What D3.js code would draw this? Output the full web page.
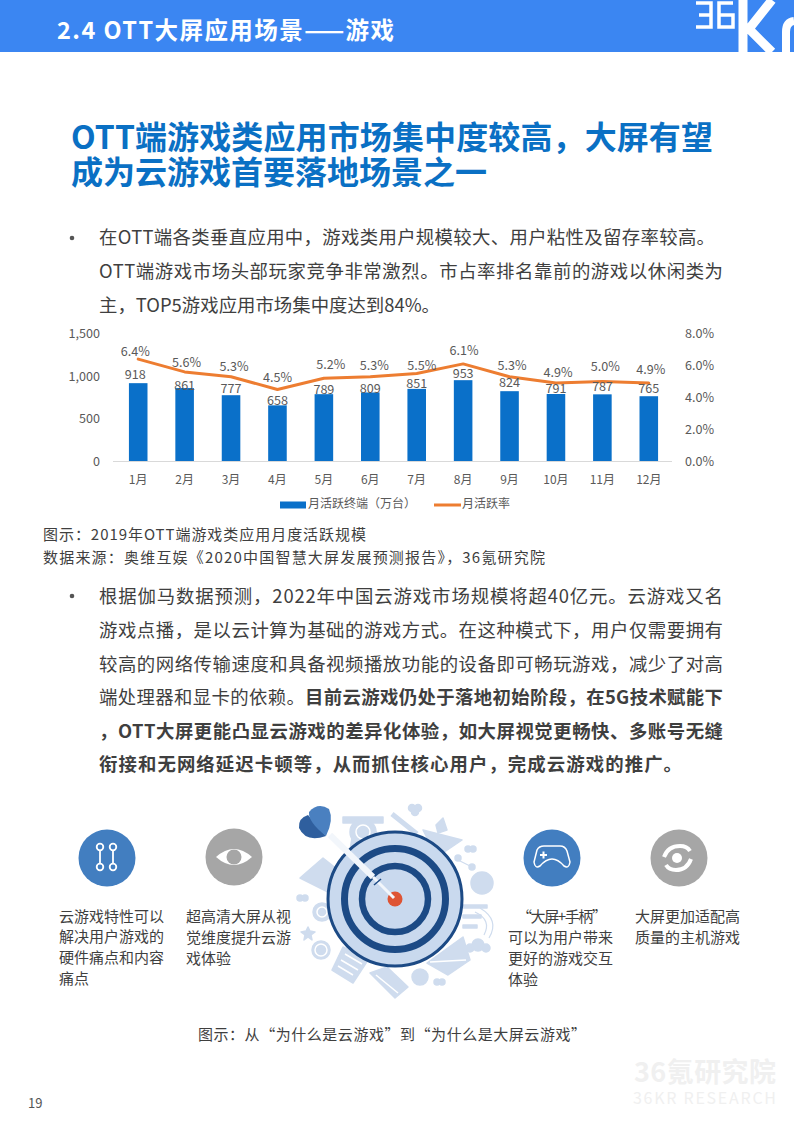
<!DOCTYPE html>
<html><head><meta charset="utf-8">
<script src="https://cdn.jsdelivr.net/npm/d3@7/dist/d3.min.js"></script>
<style>html,body{margin:0;padding:0;background:#fff}svg{display:block}text{font-family:"Noto Sans CJK SC","Noto Sans",sans-serif}</style>
</head><body><svg id="c" width="794" height="1123"></svg>
<script>
const months=["1月","2月","3月","4月","5月","6月","7月","8月","9月","10月","11月","12月"];
const terminals=[918,861,777,658,789,809,851,953,824,791,787,765];
const rates=[6.4,5.6,5.3,4.5,5.2,5.3,5.5,6.1,5.3,4.9,5.0,4.9];
const leftTicks=[0,500,1000,1500];
const rightTicks=[0,2,4,6,8];
const barName="月活跃终端（万台）", lineName="月活跃率";

const svg=d3.select("#c");
const BLUE="#3b86f2",TITLE="#0a70c4",INK="#3f3f3f",AX="#595959";

function T(x,cy,s,size,opt={}){
  return svg.append("text").attr("x",x).attr("y",cy+size*0.36).attr("font-size",size)
    .attr("fill",opt.fill||INK).attr("font-weight",opt.weight||400)
    .attr("text-anchor",opt.anchor||"start")
    .attr("textLength",opt.len||null).attr("lengthAdjust",opt.len?"spacing":null).text(s);
}
function bullet(cy){svg.append("circle").attr("cx",72).attr("cy",cy).attr("r",2.3).attr("fill","#555");}
// header
svg.append("rect").attr("width",794).attr("height",52).attr("fill",BLUE);
T(57,31,"2.4 OTT大屏应用场景——游戏",23.5,{fill:"#fff",weight:700,len:337});
const logo=svg.append("g").attr("fill","none").attr("stroke","#fff");
logo.append("path").attr("stroke-width",3.5).attr("d","M696 3H711V27H696M699 15H711M733 3H719V27H733V15H719");
logo.append("path").attr("stroke-width",9).attr("d","M743 0V52M772 0L749 29L772 52");
logo.append("path").attr("stroke-width",8).attr("d","M786 52V32Q786 22 794 21");

// headline
T(71,137,"OTT端游戏类应用市场集中度较高，大屏有望",32,{fill:TITLE,weight:700,len:642});
T(71,172,"成为云游戏首要落地场景之一",32,{fill:TITLE,weight:700,len:416});

// body 1
[["在OTT端各类垂直应用中，游戏类用户规模较大、用户粘性及留存率较高。",237,616],["OTT端游戏市场头部玩家竞争非常激烈。市占率排名靠前的游戏以休闲类为",271,624],["主，TOP5游戏应用市场集中度达到84%。",305,341]]
 .forEach(d=>T(99,d[1],d[0],18.4,{len:d[2]}));
bullet(238);

// chart
const x=d3.scaleBand().domain(months).range([115,672]).paddingInner(0.6).paddingOuter(0.3);
const y=d3.scaleLinear().domain([0,1500]).range([461.5,333.5]);
const yr=d3.scaleLinear().domain([0,8]).range([461.5,333.5]);
const cx=m=>x(m)+x.bandwidth()/2;
const chart=svg.append("g");
chart.selectAll("rect").data(terminals).join("rect")
 .attr("x",(d,i)=>x(months[i])).attr("width",x.bandwidth())
 .attr("y",d=>y(d)).attr("height",d=>y(0)-y(d)).attr("fill","#0a70c9");
chart.append("line").attr("x1",113).attr("x2",672).attr("y1",461.5).attr("y2",461.5).attr("stroke","#d9d9d9");
const line=d3.line().x((d,i)=>cx(months[i])).y(d=>yr(d));
chart.append("path").attr("d",line(rates)).attr("fill","none").attr("stroke","#ed7d31").attr("stroke-width",3).attr("stroke-linejoin","round").attr("stroke-linecap","round");
const s=12.6;
const dyB=[-9,-3,-7,-4.7,-4.7,-4.5,-5,-7,-8.5,-6,-8.3,-8];
const dxB=[-3,0,0,0,0,0,0,0,0,0,0,0];
terminals.forEach((d,i)=>T(cx(months[i])+dxB[i],y(d)+dyB[i],d3.format("d")(d),s,{anchor:"middle",fill:AX}));
const dyR=[-8,-9,-10,-11.8,-14,-11,-8,-13,-11.7,-10.3,-15.5,-14];
const dxR=[-3,2,3,0,7,4,5,1,2.5,2,3,2];
rates.forEach((d,i)=>T(cx(months[i])+dxR[i],yr(d)+dyR[i],d.toFixed(1)+"%",s,{anchor:"middle",fill:AX}));
leftTicks.forEach(t=>T(100,y(t),d3.format(",")(t),s,{anchor:"end",fill:AX}));
rightTicks.forEach(t=>T(685,yr(t),t.toFixed(1)+"%",s,{fill:AX}));
months.forEach(m=>T(cx(m),480,m,12,{anchor:"middle",fill:AX}));
svg.append("rect").attr("x",280).attr("y",501.500).attr("width",26).attr("height",7).attr("fill","#0a70c9");
T(308,504,barName,12,{fill:AX});
svg.append("line").attr("x1",434).attr("x2",461).attr("y1",505).attr("y2",505).attr("stroke","#ed7d31").attr("stroke-width",3);
T(462,504,lineName,12,{fill:AX});

T(43,535,"图示：2019年OTT端游戏类应用月度活跃规模",15,{len:323});
T(43,558,"数据来源：奥维互娱《2020中国智慧大屏发展预测报告》，36氪研究院",15,{len:502});

// body 2
bullet(596);
[["根据伽马数据预测，2022年中国云游戏市场规模将超40亿元。云游戏又名",596],
 ["游戏点播，是以云计算为基础的游戏方式。在这种模式下，用户仅需要拥有",630],
 ["较高的网络传输速度和具备视频播放功能的设备即可畅玩游戏，减少了对高",664]
].forEach(d=>T(99,d[1],d[0],18.4,{len:624}));
svg.append("text").attr("x",99).attr("y",697+6.6).attr("font-size",18.4).attr("fill",INK).attr("textLength",624)
 .call(t=>{t.append("tspan").text("端处理器和显卡的依赖。");t.append("tspan").attr("font-weight",700).text("目前云游戏仍处于落地初始阶段，在5G技术赋能下");});
T(99,731,"，OTT大屏更能凸显云游戏的差异化体验，如大屏视觉更畅快、多账号无缝",18.4,{weight:700,len:624});
T(99,764,"衔接和无网络延迟卡顿等，从而抓住核心用户，完成云游戏的推广。",18.4,{weight:700,len:583});

// illustration: pale doodles
const PALE="#cfdcee";
const ill=svg.append("g").attr("fill",PALE).attr("stroke",PALE).attr("stroke-width",1.5).attr("stroke-linejoin","round");
[[[300,878],[323,858],[347,877],[330,893]],
 [[423,830],[462,840],[437,857]],
 [[427,963],[463,937],[470,960],[448,975]],
 [[343,947],[368,960],[353,983],[332,970]],
 [[370,973],[387,967],[408,987],[395,998]],
 [[350,850],[353,832],[372,826],[388,850]],
 [[343,823],[343,817],[383,817],[383,823]],
 [[436,825],[443,818],[447,830],[438,833]],
 [[308,927],[310,931],[315,932],[311,935],[312,940],[308,937],[304,940],[305,935],[301,932],[306,931]]
].forEach(p=>ill.append("path").attr("d","M"+p.join("L")+"Z"));
[[412,808,3.5],[418,808,3.5],[415,812,3.5],[468,849,3],[473,849,3],[458,858,3],[472,867,3],[482,883,11],[322,912,9],[300,898,3],[305,898,3],[321,950,9],[437,982,3],[442,982,3],[420,977,8],[470,948,4],[478,945,6],[486,948,4],[363,832,13]].forEach(c=>
 ill.append("circle").attr("cx",c[0]).attr("cy",c[1]).attr("r",c[2]));
[[463,905,24],[463,915,18],[463,925,14]].forEach(b=>ill.append("rect").attr("x",b[0]).attr("y",b[1]).attr("width",b[2]).attr("height",3));
ill.append("path").attr("d","M392 814L417 834").attr("stroke-width",5);
ill.append("path").attr("d","M475 912Q492 920 484 935M480 908Q500 920 489 938").attr("fill","none").attr("stroke-width",1.2);
ill.append("path").attr("d","M458 860L472 867").attr("fill","none").attr("stroke-width",1.2);
const det=svg.append("g").attr("stroke","#fff").attr("stroke-width",1.5).attr("fill","none");
det.append("path").attr("d","M345 954L362 964M341 960L358 970M338 966L353 975");
det.append("path").attr("d","M376 975L398 993");
det.append("path").attr("d","M430 962L466 960");
det.append("circle").attr("cx",321).attr("cy",950).attr("r",6);
det.append("circle").attr("cx",322).attr("cy",912).attr("r",5);
det.append("circle").attr("cx",363).attr("cy",832).attr("r",7);
const tx=395,ty=899;
svg.append("circle").attr("cx",tx).attr("cy",ty).attr("r",67).attr("fill","#c9d9ee").attr("stroke","#1c4a85").attr("stroke-width",3);
svg.append("circle").attr("cx",tx).attr("cy",ty).attr("r",50.5).attr("fill","none").attr("stroke","#1c4a85").attr("stroke-width",7);
svg.append("circle").attr("cx",tx).attr("cy",ty).attr("r",33).attr("fill","none").attr("stroke","#1c4a85").attr("stroke-width",6.5);
svg.append("circle").attr("cx",tx).attr("cy",ty).attr("r",7.5).attr("fill","#de5434");
svg.append("path").attr("d","M330 835L373 877").attr("stroke","#f2f6fb").attr("stroke-width",6);
svg.append("path").attr("d","M373 877L394 898").attr("stroke","#f2f6fb").attr("stroke-width",3);
svg.append("path").attr("d","M374 885L381 879").attr("stroke","#1c4a85").attr("stroke-width",1.5);
svg.append("path").attr("d","M326 836Q306 843 299 828Q298 818 308 815Z").attr("fill","#2f5f9e");
svg.append("path").attr("d","M326 836Q308 822 309 812Q318 802 329 809Q334 820 326 836Z").attr("fill","#4a80c0");

// icons
[[107,858,"#427ec0"],[234,857,"#a6a6a6"],[552,858,"#427ec0"],[679,858,"#a6a6a6"]]
 .forEach(c=>svg.append("circle").attr("cx",c[0]).attr("cy",c[1]).attr("r",28.5).attr("fill",c[2]));
const ic=svg.append("g").attr("fill","none").attr("stroke","#fff").attr("stroke-width",1.8);
[[100,847,100,867],[113,847,113,867]].forEach(l=>{
 ic.append("path").attr("d",`M${l[0]} ${l[1]+3.5}V${l[3]-3.5}`);
 ic.append("circle").attr("cx",l[0]).attr("cy",l[1]).attr("r",3.3);
 ic.append("circle").attr("cx",l[2]).attr("cy",l[3]).attr("r",3.3);
});
svg.append("path").attr("d","M216 857Q234 841 252 857Q234 873 216 857Z").attr("fill","#fff");
svg.append("circle").attr("cx",234).attr("cy",857).attr("r",7.5).attr("fill","#a6a6a6");
ic.append("path").attr("stroke-width",1.5).attr("d","M537 850Q539 846 544 846H560Q565 846 567 851L570 862Q569 869 564 866Q558 859 552 859Q546 859 540 866Q535 869 534 862Z");
ic.append("path").attr("d","M540 855H547M543.500 851.500V858.500").attr("stroke-width",2);
svg.append("circle").attr("cx",677).attr("cy",858).attr("r",5).attr("fill","#fff");
const ic2=svg.append("g").attr("fill","none").attr("stroke","#fff").attr("stroke-width",4);
ic2.append("path").attr("d","M664 857Q668 846 680 846Q687 846 690 851");
ic2.append("path").attr("d","M691 859Q687 870 676 870Q669 870 666 865");

[[59,[["云游戏特性可以",917],["解决用户游戏的",937],["硬件痛点和内容",958],["痛点",979]]],
[186,[["超高清大屏从视",917],["觉维度提升云游",938],["戏体验",959]]],
[635,[["大屏更加适配高",917],["质量的主机游戏",938]]]]
 .forEach(c=>c[1].forEach(l=>T(c[0],l[1],l[0],15,{len:l[0].length*15})));
[["“大屏+手柄”",517,917,90],["可以为用户带来",508,938,105],["更好的游戏交互",508,959,105],["体验",508,980,30]].forEach(d=>T(d[1],d[2],d[0],15,{len:d[3]}));
T(198,1035,"图示：从“为什么是云游戏”到“为什么是大屏云游戏”",15,{len:388});
T(28,1103,"19",13,{fill:"#555"});
T(634,1072,"36氪研究院",27,{fill:"#f0f0f0",weight:700,len:142});
T(633,1098,"36KR  RESEARCH",16,{fill:"#f0f0f0",len:143});
</script></body></html>
